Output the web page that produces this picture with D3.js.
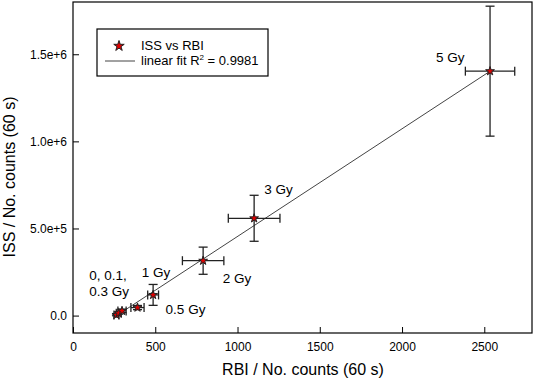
<!DOCTYPE html>
<html>
<head>
<meta charset="utf-8">
<script src="https://cdn.jsdelivr.net/npm/d3@7"></script>
<style>
  body { margin: 0; background: #fff; }
  svg text { font-family: "Liberation Sans", Arial, sans-serif; fill: #000; }
</style>
</head>
<body>
<div id="chart"></div>
<script>
// dose labels, RBI counts (x), ISS counts (y) with error bars
const doses = ["0", "0.1", "0.3", "0.5", "1", "2", "3", "5"];
const rbi = [264, 278, 298, 392, 487, 791, 1101, 2535];
const rbiErr = [15, 15, 25, 40, 33, 126, 157, 150];
const iss = [4000, 14000, 27000, 46000, 118700, 315000, 558500, 1403000];
const issErr = [5000, 6000, 10000, 12000, 60000, 78000, 132000, 373000];

const xTicks = [0, 500, 1000, 1500, 2000, 2500];
const yTicks = [0, 500000, 1000000, 1500000];

// fit line y = a*x + b
const fitSlope = 618;
const fitIntercept = -163800;

const annotations = [
  { text: "5 Gy", x: 2206, y: 1456000 },
  { text: "3 Gy", x: 1163, y: 698000 },
  { text: "2 Gy", x: 910, y: 185000 },
  { text: "1 Gy", x: 418, y: 223000 },
  { text: "0.5 Gy", x: 563, y: 7300 },
  { text: "0, 0.1,", x: 99, y: 204000 },
  { text: "0.3 Gy", x: 99, y: 112000 }
];

const W = 536, H = 384;
const margin = { top: 2, right: 4, bottom: 51, left: 73 };
const width = W - margin.left - margin.right;
const height = H - margin.top - margin.bottom;

const svg = d3.select("#chart").append("svg")
  .attr("width", W).attr("height", H);
const g = svg.append("g")
  .attr("transform", `translate(${margin.left},${margin.top})`);

const x = d3.scaleLinear().domain([0, 2790]).range([0, width]);
const y = d3.scaleLinear().domain([-100000, 1800000]).range([height, 0]);

// frame
g.append("rect")
  .attr("width", width).attr("height", height)
  .attr("fill", "none").attr("stroke", "#000").attr("stroke-width", 1.2);

// axes (ticks inward)
const xAxis = g.append("g")
  .attr("transform", `translate(0,${height})`)
  .call(d3.axisBottom(x).tickValues(xTicks).tickSize(-6).tickPadding(9).tickFormat(d3.format("d")));
const yAxis = g.append("g")
  .call(d3.axisLeft(y).tickValues(yTicks).tickSize(-6).tickPadding(6)
    .tickFormat(d => d === 0 ? "0.0" : (d / 1e6 >= 1 ? (d / 1e6).toFixed(1) + "e+6" : (d / 1e5).toFixed(1) + "e+5")));
[xAxis, yAxis].forEach(a => {
  a.select(".domain").remove();
  a.selectAll("line").attr("stroke", "#000");
  a.selectAll("text").style("font-size", "12px");
});

// axis titles
svg.append("text")
  .attr("x", 303).attr("y", 375)
  .attr("text-anchor", "middle").style("font-size", "16px")
  .text("RBI / No. counts (60 s)");
svg.append("text")
  .attr("transform", `translate(15,177) rotate(-90)`)
  .attr("text-anchor", "middle").style("font-size", "16px")
  .text("ISS / No. counts (60 s)");

// linear fit
const x0 = d3.min(rbi), x1 = d3.max(rbi);
g.append("line")
  .attr("x1", x(x0)).attr("y1", y(fitSlope * x0 + fitIntercept))
  .attr("x2", x(x1)).attr("y2", y(fitSlope * x1 + fitIntercept))
  .attr("stroke", "#444").attr("stroke-width", 1);

// error bars
const cap = 4.5;
const eb = g.append("g").attr("stroke", "#222").attr("stroke-width", 1.3);
rbi.forEach((xv, i) => {
  const cx = x(xv), cy = y(iss[i]);
  const xl = x(xv - rbiErr[i]), xr = x(xv + rbiErr[i]);
  const yt = y(iss[i] + issErr[i]), yb = y(iss[i] - issErr[i]);
  eb.append("line").attr("x1", xl).attr("x2", xr).attr("y1", cy).attr("y2", cy);
  eb.append("line").attr("x1", xl).attr("x2", xl).attr("y1", cy - cap).attr("y2", cy + cap);
  eb.append("line").attr("x1", xr).attr("x2", xr).attr("y1", cy - cap).attr("y2", cy + cap);
  eb.append("line").attr("x1", cx).attr("x2", cx).attr("y1", yt).attr("y2", yb);
  eb.append("line").attr("x1", cx - cap).attr("x2", cx + cap).attr("y1", yt).attr("y2", yt);
  eb.append("line").attr("x1", cx - cap).attr("x2", cx + cap).attr("y1", yb).attr("y2", yb);
});

// star markers
const star = d3.symbol().type(d3.symbolStar).size(24);
g.selectAll(".pt").data(rbi).enter().append("path")
  .attr("class", "pt")
  .attr("d", star)
  .attr("transform", (d, i) => `translate(${x(d)},${y(iss[i])})`)
  .attr("fill", "#e00000").attr("stroke", "#222").attr("stroke-width", 1);

// dose annotations
g.selectAll(".ann").data(annotations).enter().append("text")
  .attr("x", d => x(d.x)).attr("y", d => y(d.y))
  .style("font-size", "13.5px")
  .text(d => d.text);

// legend
const lg = svg.append("g").attr("transform", "translate(97,29)");
lg.append("rect").attr("width", 171).attr("height", 47)
  .attr("fill", "#fff").attr("stroke", "#000").attr("stroke-width", 1.2);
lg.append("path").attr("d", d3.symbol().type(d3.symbolStar).size(34))
  .attr("transform", "translate(22,17)")
  .attr("fill", "#e00000").attr("stroke", "#222");
lg.append("line").attr("x1", 8).attr("x2", 38).attr("y1", 32).attr("y2", 32)
  .attr("stroke", "#444");
lg.append("text").attr("x", 44).attr("y", 21).style("font-size", "13px").text("ISS vs RBI");
const lt = lg.append("text").attr("x", 44).attr("y", 36).style("font-size", "13px");
lt.append("tspan").text("linear fit R");
lt.append("tspan").attr("dy", -5).style("font-size", "8px").text("2");
lt.append("tspan").attr("dy", 5).text(" = 0.9981");
</script>
</body>
</html>
